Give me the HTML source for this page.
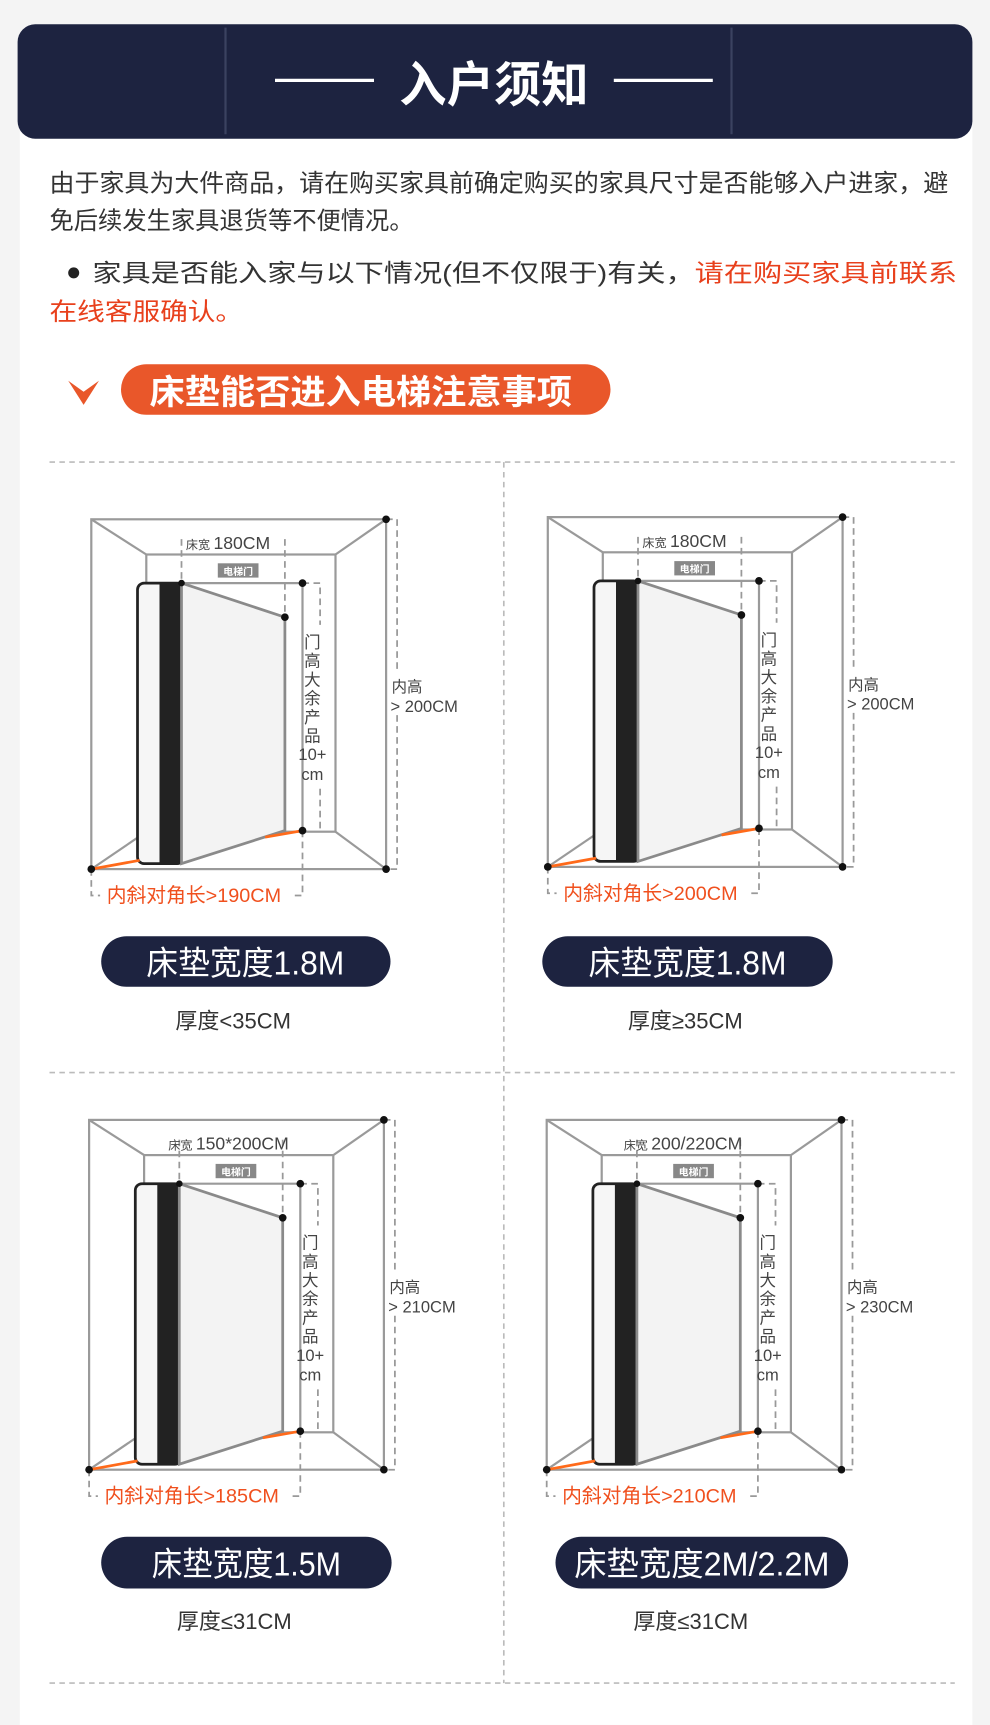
<!DOCTYPE html>
<html><head><meta charset="utf-8"><style>
html,body{margin:0;padding:0;background:#f4f4f4;}
svg{display:block;}
text{font-family:"Liberation Sans","Noto Sans CJK SC",sans-serif;}
</style></head><body>
<svg width="990" height="1725" viewBox="0 0 900 1568" xmlns="http://www.w3.org/2000/svg">
<defs>
<g id="pan">
  <rect x="0" y="0" width="268" height="318" fill="#fff" stroke="#9a9a9a" stroke-width="2"/>
  <rect x="50" y="32" width="172" height="252" fill="#fff" stroke="#9a9a9a" stroke-width="2"/>
  <g stroke="#9a9a9a" stroke-width="2">
    <line x1="0" y1="0" x2="50" y2="32"/><line x1="268" y1="0" x2="222" y2="32"/>
    <line x1="0" y1="318" x2="50" y2="284"/><line x1="268" y1="318" x2="222" y2="284"/>
    <line x1="82" y1="58" x2="192" y2="58"/><line x1="192" y1="58" x2="192" y2="283"/>
  </g>
  <rect x="42" y="58" width="42" height="255" rx="6" fill="#f6f6f6" stroke="#222" stroke-width="2.5"/>
  <rect x="62" y="58" width="21" height="255" fill="#222"/>
  <polygon points="82,58 176,89 176,283 82,313" fill="#f3f3f3" stroke="#8a8a8a" stroke-width="2.5"/>
  <g stroke="#ff6a1a" stroke-width="2.5"><line x1="0" y1="318" x2="44" y2="310"/><line x1="158" y1="289" x2="192" y2="283"/></g>
  <g stroke="#999" stroke-width="1.6" stroke-dasharray="6,4" fill="none">
    <line x1="82" y1="18" x2="82" y2="58"/><line x1="176" y1="18" x2="176" y2="89"/>
    <polyline points="192,58 208,58 208,96"/><line x1="208" y1="245" x2="208" y2="283"/>
    <polyline points="268,0 278,0 278,138"/><polyline points="278,178 278,318 268,318"/>
    <polyline points="0,318 0,342 8,342"/><polyline points="192,283 192,342 184,342"/>
  </g>
  <g fill="#111"><circle cx="82" cy="58" r="3"/><circle cx="176" cy="89" r="3.5"/><circle cx="192" cy="58" r="3.5"/><circle cx="192" cy="283" r="3.5"/><circle cx="268" cy="0" r="3.5"/><circle cx="268" cy="318" r="3.5"/><circle cx="0" cy="318" r="3.5"/></g>
  <rect x="115" y="40" width="37" height="13" fill="#888"/>
  <text x="133.5" y="50.5" font-size="9" fill="#fff" text-anchor="middle" font-weight="bold">电梯门</text>
  <g font-size="15" fill="#444" text-anchor="middle">
    <text x="201" y="117">门</text><text x="201" y="134">高</text><text x="201" y="151">大</text><text x="201" y="168">余</text><text x="201" y="185">产</text><text x="201" y="202">品</text><text x="201" y="219">10+</text><text x="201" y="237">cm</text>
  </g>
  <text x="273" y="157" font-size="14" fill="#444">内高</text>
</g>
</defs>
<rect x="18" y="100" width="866" height="1468" fill="#fff"/>
<rect x="16" y="22" width="868" height="104" rx="16" fill="#1d2340"/>
<line x1="205" y1="25" x2="205" y2="122" stroke="#3b4260" stroke-width="2"/>
<line x1="665" y1="25" x2="665" y2="122" stroke="#3b4260" stroke-width="2"/>
<line x1="250" y1="73" x2="340" y2="73" stroke="#fff" stroke-width="3"/>
<line x1="558" y1="73" x2="648" y2="73" stroke="#fff" stroke-width="3"/>
<text x="449" y="92" font-size="44" fill="#fff" text-anchor="middle" font-weight="bold" textLength="172" lengthAdjust="spacingAndGlyphs">入户须知</text>
<g font-size="22" fill="#333">
<text x="45" y="174" textLength="817" lengthAdjust="spacingAndGlyphs">由于家具为大件商品，请在购买家具前确定购买的家具尺寸是否能够入户进家，避</text>
<text x="45" y="208" textLength="331" lengthAdjust="spacingAndGlyphs">免后续发生家具退货等不便情况。</text>
<circle cx="67" cy="248" r="5" fill="#222"/>
<text x="84" y="256" textLength="786" lengthAdjust="spacingAndGlyphs">家具是否能入家与以下情况(但不仅限于)有关，<tspan fill="#e8401c">请在购买家具前联系</tspan></text>
<text x="45" y="291" fill="#e8401c" textLength="176" lengthAdjust="spacingAndGlyphs">在线客服确认。</text>
</g>
<polygon points="62,346 76,356 90,346 76,368" fill="#e9572a"/>
<rect x="110" y="331" width="445" height="46" rx="23" fill="#e9572a"/>
<text x="136" y="367" font-size="31" fill="#fff" font-weight="bold" textLength="384" lengthAdjust="spacingAndGlyphs">床垫能否进入电梯注意事项</text>
<g stroke="#bbb" stroke-width="1.5" stroke-dasharray="5,4">
<line x1="45" y1="420" x2="868" y2="420"/><line x1="45" y1="975" x2="868" y2="975"/><line x1="45" y1="1530" x2="868" y2="1530"/>
<line x1="458" y1="420" x2="458" y2="1530"/>
</g>
<g transform="translate(83,472)"><use href="#pan"/><text x="86" y="27" font-size="11" fill="#444">床宽 <tspan font-size="16">180CM</tspan></text><text x="272" y="175" font-size="15" fill="#444">&gt; 200CM</text><text x="14" y="348" font-size="18" fill="#f0501e">内斜对角长&gt;190CM</text></g>
<g transform="translate(498,470)"><use href="#pan"/><text x="86" y="27" font-size="11" fill="#444">床宽 <tspan font-size="16">180CM</tspan></text><text x="272" y="175" font-size="15" fill="#444">&gt; 200CM</text><text x="14" y="348" font-size="18" fill="#f0501e">内斜对角长&gt;200CM</text></g>
<g transform="translate(81,1018)"><use href="#pan"/><text x="72" y="27" font-size="11" fill="#444">床宽 <tspan font-size="16">150*200CM</tspan></text><text x="272" y="175" font-size="15" fill="#444">&gt; 210CM</text><text x="14" y="348" font-size="18" fill="#f0501e">内斜对角长&gt;185CM</text></g>
<g transform="translate(497,1018)"><use href="#pan"/><text x="70" y="27" font-size="11" fill="#444">床宽 <tspan font-size="16">200/220CM</tspan></text><text x="272" y="175" font-size="15" fill="#444">&gt; 230CM</text><text x="14" y="348" font-size="18" fill="#f0501e">内斜对角长&gt;210CM</text></g>
<g fill="#1d2340">
<rect x="92" y="851" width="263" height="46" rx="23"/><rect x="493" y="851" width="264" height="46" rx="23"/>
<rect x="92" y="1397" width="264" height="47" rx="23.5"/><rect x="505" y="1397" width="266" height="47" rx="23.5"/>
</g>
<g font-size="30" fill="#fff" text-anchor="middle">
<text x="223" y="886" textLength="180" lengthAdjust="spacingAndGlyphs">床垫宽度1.8M</text><text x="625" y="886" textLength="180" lengthAdjust="spacingAndGlyphs">床垫宽度1.8M</text>
<text x="224" y="1432" textLength="172" lengthAdjust="spacingAndGlyphs">床垫宽度1.5M</text><text x="638" y="1432" textLength="232" lengthAdjust="spacingAndGlyphs">床垫宽度2M/2.2M</text>
</g>
<g font-size="20" fill="#333" text-anchor="middle">
<text x="212" y="935">厚度&lt;35CM</text><text x="623" y="935">厚度≥35CM</text>
<text x="213" y="1481">厚度≤31CM</text><text x="628" y="1481">厚度≤31CM</text>
</g>
</svg>
</body></html>
